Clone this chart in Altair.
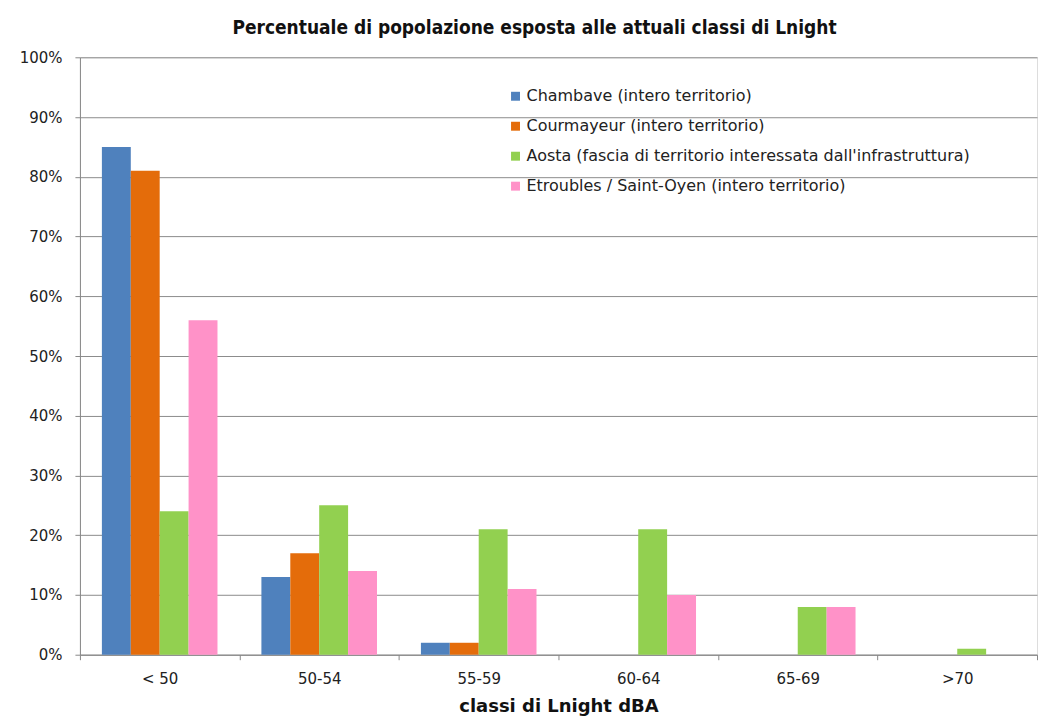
import altair as alt
import pandas as pd

categories = ["< 50", "50-54", "55-59", "60-64", "65-69", ">70"]
series = [
    "Chambave (intero territorio)",
    "Courmayeur (intero territorio)",
    "Aosta (fascia di territorio interessata dall'infrastruttura)",
    "Etroubles / Saint-Oyen (intero territorio)",
]
chambave = [85, 13, 2, 0, 0, 0]
courmayeur = [81, 17, 2, 0, 0, 0]
aosta = [24, 25, 21, 21, 8, 1]
etroubles = [56, 14, 11, 10, 8, 0]
colors = ["#4F81BD", "#E46C0A", "#92D050", "#FF92C8"]

rows = []
for s, vals in zip(series, [chambave, courmayeur, aosta, etroubles]):
    for c, v in zip(categories, vals):
        rows.append({"classe": c, "serie": s, "valore": v})
df = pd.DataFrame(rows)

font = "DejaVu Sans"
narrow = "DejaVu Sans Condensed, Liberation Sans Narrow, sans-serif"

chart = alt.Chart(df).mark_bar().encode(
    x=alt.X("classe:N", sort=categories,
            scale=alt.Scale(paddingInner=0, paddingOuter=0),
            axis=alt.Axis(title="classi di Lnight dBA", labelAngle=0,
                          labelFont=font, labelFontSize=15, labelColor="#222",
                          labelPadding=12, titleFont=font, titleFontSize=18,
                          titleFontWeight="bold", titleColor="#111", titlePadding=11,
                          tickBand="extent", tickSize=5, tickColor="#888",
                          domainColor="#888", grid=False)),
    xOffset=alt.XOffset("serie:N", sort=series,
                        scale=alt.Scale(paddingInner=0, paddingOuter=0.76)),
    y=alt.Y("valore:Q", scale=alt.Scale(domain=[0, 100], nice=False),
            axis=alt.Axis(title=None, values=list(range(0, 101, 10)),
                          labelExpr="datum.value + '%'", labelFont=font,
                          labelFontSize=15, labelColor="#222", labelPadding=13,
                          tickSize=5, tickColor="#888", domainColor="#888",
                          gridColor="#8c8c8c", gridWidth=1)),
    color=alt.Color("serie:N", sort=series,
                    scale=alt.Scale(domain=series, range=colors),
                    legend=alt.Legend(title=None, orient="none", legendX=428, legendY=31,
                                      symbolType="square", symbolSize=80,
                                      symbolStrokeWidth=0, labelFont=font,
                                      labelFontSize=16, labelColor="#222",
                                      rowPadding=14, symbolOffset=0, labelOffset=3,
                                      labelLimit=700)),
).properties(
    width=958, height=598,
    title=alt.TitleParams("Percentuale di popolazione esposta alle attuali classi di Lnight",
                          font=narrow, fontSize=19, fontWeight="bold", color="#111",
                          offset=12, dx=-24),
    padding={"left": 11, "top": 11, "right": 2, "bottom": 0},
).configure_view(stroke=None).configure(background="white")

chart.save("out.html", embed_options={"renderer": "svg", "actions": False})
